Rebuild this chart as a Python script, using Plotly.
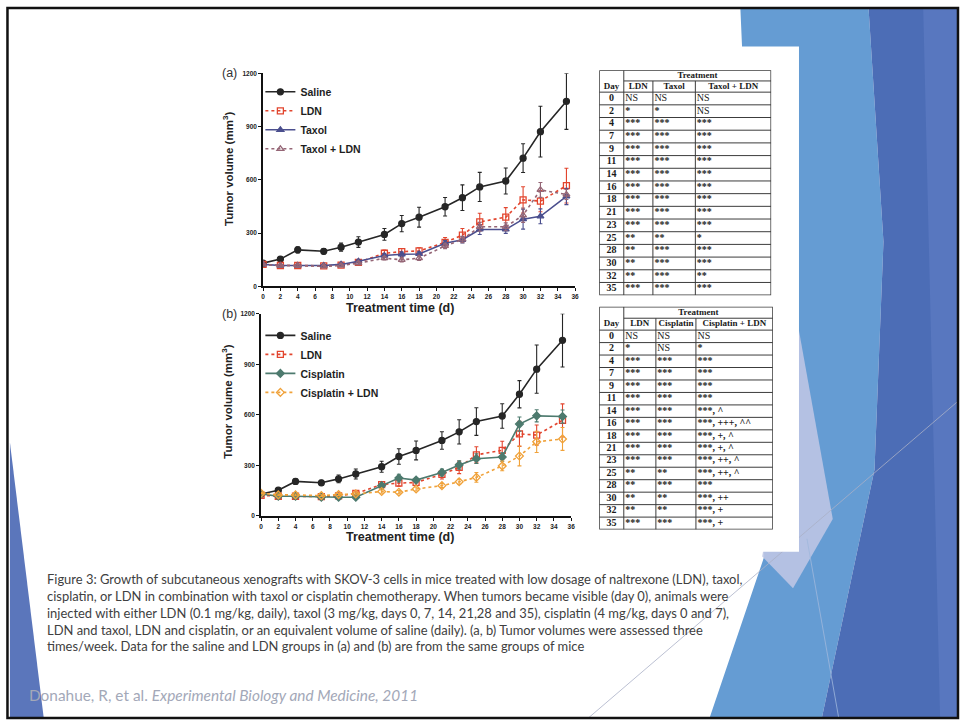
import plotly.graph_objects as go

W, H = 960, 723


def px(x):
    return x / W


def py(y):
    return 1 - y / H


# ---------------- data ----------------
days = [0, 2, 4, 7, 9, 11, 14, 16, 18, 21, 23, 25, 28, 30, 32, 35]

saline = [130, 153, 205, 197, 220, 249, 292, 353, 389, 448, 499, 560, 593, 722, 871, 1042]
saline_err = [6, 13, 17, 15, 23, 30, 33, 46, 56, 52, 72, 82, 73, 81, 143, 158]

ldn = [123, 117, 117, 115, 119, 134, 186, 195, 199, 247, 288, 363, 389, 487, 480, 567]
ldn_err = [5, 5, 6, 6, 8, 10, 18, 18, 18, 28, 37, 48, 54, 74, 60, 98]

taxol = [123, 117, 117, 117, 123, 141, 173, 180, 182, 242, 262, 320, 320, 378, 394, 506]
taxol_err = [5, 5, 5, 5, 6, 8, 10, 12, 12, 15, 18, 28, 22, 56, 42, 46]

taxol_ldn = [123, 117, 117, 112, 117, 130, 158, 149, 158, 227, 264, 335, 335, 400, 543, 517]
taxol_ldn_err = [5, 5, 5, 5, 6, 8, 10, 12, 12, 15, 18, 25, 22, 40, 42, 28]

cisplatin = [131, 117, 117, 111, 111, 111, 180, 225, 213, 258, 303, 340, 350, 545, 594, 590]
cisplatin_err = [5, 5, 5, 5, 6, 6, 12, 23, 15, 20, 25, 29, 25, 42, 36, 39]

cis_ldn = [135, 125, 125, 121, 127, 131, 145, 141, 160, 180, 203, 229, 297, 356, 440, 457]
cis_ldn_err = [5, 5, 5, 5, 6, 6, 10, 10, 12, 12, 15, 29, 29, 59, 63, 68]

x_ticks = list(range(0, 37, 2))
y_ticks = [0, 300, 600, 900, 1200]

# significance tables
table_a_header = ["Day", "LDN", "Taxol", "Taxol + LDN"]
table_a_ldn = ["NS", "*", "***", "***", "***", "***", "***", "***", "***", "***", "***", "**", "**", "**", "**", "***"]
table_a_taxol = ["NS", "*", "***", "***", "***", "***", "***", "***", "***", "***", "***", "**", "***", "***", "***", "***"]
table_a_combo = ["NS", "NS", "***", "***", "***", "***", "***", "***", "***", "***", "***", "*", "***", "***", "**", "***"]

table_b_header = ["Day", "LDN", "Cisplatin", "Cisplatin + LDN"]
table_b_ldn = ["NS", "*", "***", "***", "***", "***", "***", "***", "***", "***", "***", "**", "**", "**", "**", "***"]
table_b_cis = ["NS", "NS", "***", "***", "***", "***", "***", "***", "***", "***", "***", "**", "***", "**", "**", "***"]
table_b_combo = ["NS", "*", "***", "***", "***", "***", "***, ^", "***, +++, ^^", "***, +, ^", "***, +, ^",
                 "***, ++, ^", "***, ++, ^", "***", "***, ++", "***, +", "***, +"]

caption = ("Figure 3: Growth of subcutaneous xenografts with SKOV-3 cells in mice treated with low dosage of naltrexone (LDN), taxol,<br>"
           "cisplatin, or LDN in combination with taxol or cisplatin chemotherapy. When tumors became visible (day 0), animals were<br>"
           "injected with either LDN (0.1 mg/kg, daily), taxol (3 mg/kg, days 0, 7, 14, 21,28 and 35), cisplatin (4 mg/kg, days 0 and 7),<br>"
           "LDN and taxol, LDN and cisplatin, or an equivalent volume of saline (daily). (a, b) Tumor volumes were assessed three<br>"
           "times/week. Data for the saline and LDN groups in (a) and (b) are from the same groups of mice")
citation = "Donahue, R, et al. <i>Experimental Biology and Medicine, 2011</i>"

# ---------------- figure ----------------
fig = go.Figure()

C_SALINE = "#262626"
C_LDN = "#e2452e"
C_TAXOL = "#4b4f8e"
C_TAXOL_LDN = "#956676"
C_CIS = "#4d7a6e"
C_CIS_LDN = "#f0a23a"


def add_series(y, err, name, color, symbol, dash, xa, ya, legend, msize=6):
    fig.add_trace(go.Scatter(
        x=days, y=y, name=name, mode="lines+markers",
        line=dict(color=color, width=1.6, dash=dash),
        marker=dict(symbol=symbol, size=msize, color=color, line=dict(color=color, width=1.3)),
        error_y=dict(type="data", array=err, color=color, thickness=1.1, width=2),
        xaxis=xa, yaxis=ya, legend=legend, hoverinfo="skip"))


# panel (a)
add_series(saline, saline_err, "Saline", C_SALINE, "circle", "solid", "x", "y", "legend")
add_series(ldn, ldn_err, "LDN", C_LDN, "square-open", "dot", "x", "y", "legend")
add_series(taxol, taxol_err, "Taxol", C_TAXOL, "triangle-up", "solid", "x", "y", "legend")
add_series(taxol_ldn, taxol_ldn_err, "Taxol + LDN", C_TAXOL_LDN, "triangle-up-open", "dot", "x", "y", "legend")

# panel (b)
add_series(saline, saline_err, "Saline", C_SALINE, "circle", "solid", "x2", "y2", "legend2")
add_series(ldn, ldn_err, "LDN", C_LDN, "square-open", "dot", "x2", "y2", "legend2")
add_series(cisplatin, cisplatin_err, "Cisplatin", C_CIS, "diamond", "solid", "x2", "y2", "legend2")
add_series(cis_ldn, cis_ldn_err, "Cisplatin + LDN", C_CIS_LDN, "diamond-open", "dot", "x2", "y2", "legend2")


# ---------------- tables ----------------
def cell_label(s):
    return f"<b>{s}</b>" if "*" in s else s


def add_table(xa, ya, header, columns, col_edges, row_edges):
    left, right = col_edges[0], col_edges[-1]
    top, bottom = row_edges[0], row_edges[-1]
    font = dict(family="Liberation Serif", size=10, color="#1a1a1a")
    head_font = dict(family="Liberation Serif", size=9, color="#1a1a1a")
    # grid lines
    gx, gy = [], []
    for r in row_edges[2:-1]:
        gx += [left, right, None]
        gy += [r, r, None]
    gx += [col_edges[1], right, None]
    gy += [row_edges[1], row_edges[1], None]
    gx += [col_edges[1], col_edges[1], None]
    gy += [top, bottom, None]
    for c in col_edges[2:-1]:
        gx += [c, c, None]
        gy += [row_edges[1], bottom, None]
    fig.add_trace(go.Scatter(x=gx, y=gy, mode="lines", line=dict(color="#3c3c3c", width=1),
                             xaxis=xa, yaxis=ya, showlegend=False, hoverinfo="skip"))
    fig.add_trace(go.Scatter(x=[left, right, right, left, left], y=[top, top, bottom, bottom, top],
                             mode="lines", line=dict(color="#3c3c3c", width=1.5),
                             xaxis=xa, yaxis=ya, showlegend=False, hoverinfo="skip"))
    # header rows
    fig.add_trace(go.Scatter(x=[(col_edges[1] + right) / 2], y=[(row_edges[0] + row_edges[1]) / 2],
                             text=["<b>Treatment</b>"], mode="text", textfont=head_font,
                             xaxis=xa, yaxis=ya, showlegend=False, hoverinfo="skip"))
    hx = [(col_edges[i] + col_edges[i + 1]) / 2 for i in range(len(header))]
    hy = [(row_edges[1] + row_edges[2]) / 2] * len(header)
    fig.add_trace(go.Scatter(x=hx, y=hy, text=[f"<b>{h}</b>" for h in header], mode="text",
                             textfont=head_font, xaxis=xa, yaxis=ya, showlegend=False, hoverinfo="skip"))
    centers = [(row_edges[i] + row_edges[i + 1]) / 2 for i in range(2, len(row_edges) - 1)]
    fig.add_trace(go.Scatter(x=[(col_edges[0] + col_edges[1]) / 2] * len(days), y=centers,
                             text=[f"<b>{d}</b>" for d in days], mode="text", textfont=font,
                             xaxis=xa, yaxis=ya, showlegend=False, hoverinfo="skip"))
    for i, col in enumerate(columns):
        fig.add_trace(go.Scatter(x=[col_edges[i + 1] + 1.5] * len(col), y=centers,
                                 text=[cell_label(s) for s in col],
                                 mode="text", textposition="middle right", textfont=font,
                                 xaxis=xa, yaxis=ya, showlegend=False, hoverinfo="skip"))


def table_rows(top, h1, h2, bottom, n):
    step = (bottom - h2) / n
    return [top, h1] + [h2 + i * step for i in range(n + 1)]


cols_a = [601, 625.7, 655, 697.7, 774]
rows_a = table_rows(67, 77.7, 89, 294, len(days))
cols_b = [601, 625.7, 658, 698.3, 775.7]
rows_b = table_rows(305.7, 317.3, 329.3, 530.7, len(days))

add_table("x3", "y3", table_a_header, [table_a_ldn, table_a_taxol, table_a_combo], cols_a, rows_a)
add_table("x4", "y4", table_b_header, [table_b_ldn, table_b_cis, table_b_combo], cols_b, rows_b)

# ---------------- axes ----------------
tickfont = dict(family="Arial", size=6.5, color="#222", weight="bold")
common_x = dict(range=[0, 36], tickvals=x_ticks, ticks="outside", ticklen=3, tickwidth=1.2,
                showline=True, linecolor="#111", linewidth=1.6, showgrid=False, zeroline=False,
                tickfont=tickfont, tickcolor="#111", fixedrange=True)
common_y = dict(range=[0, 1200], tickvals=y_ticks, ticks="outside", ticklen=3, tickwidth=1.2,
                showline=True, linecolor="#111", linewidth=1.6, showgrid=False, zeroline=False,
                tickfont=tickfont, tickcolor="#111", fixedrange=True)

fig.update_layout(
    xaxis=dict(domain=[px(262.7), px(576.7)], anchor="y", **common_x),
    yaxis=dict(domain=[py(285), py(70)], anchor="x", **common_y),
    xaxis2=dict(domain=[px(260.7), px(572.7)], anchor="y2", **common_x),
    yaxis2=dict(domain=[py(517), py(312.7)], anchor="x2", **common_y),
    xaxis3=dict(domain=[px(cols_a[0]), px(cols_a[-1])], range=[cols_a[0], cols_a[-1]], visible=False, anchor="y3"),
    yaxis3=dict(domain=[py(rows_a[-1]), py(rows_a[0])], range=[rows_a[-1], rows_a[0]], visible=False, anchor="x3"),
    xaxis4=dict(domain=[px(cols_b[0]), px(cols_b[-1])], range=[cols_b[0], cols_b[-1]], visible=False, anchor="y4"),
    yaxis4=dict(domain=[py(rows_b[-1]), py(rows_b[0])], range=[rows_b[-1], rows_b[0]], visible=False, anchor="x4"),
)

legend_style = dict(xanchor="left", yanchor="top", bgcolor="rgba(0,0,0,0)", itemwidth=30,
                    tracegroupgap=0, font=dict(family="Arial", size=10.5, color="#1e1e1e", weight="bold"))
fig.update_layout(
    legend=dict(x=px(260), y=py(74), **legend_style),
    legend2=dict(x=px(260), y=py(320), **legend_style),
)

# ---------------- slide decoration ----------------
def poly(pts, color, opacity=1.0):
    path = "M " + " L ".join(f"{px(x):.5f},{py(y):.5f}" for x, y in pts) + " Z"
    return dict(type="path", path=path, xref="paper", yref="paper", fillcolor=color,
                line=dict(width=0), opacity=opacity, layer="below")


shapes = [
    poly([(743, 4), (872, 4), (887, 240), (878, 470), (825, 721), (712, 721), (767, 558)], "#659cd3"),
    poly([(872, 4), (961, 4), (961, 721), (825, 721), (878, 470), (887, 240)], "#4c6db6"),
    poly([(927, 4), (961, 4), (961, 721), (944, 721)], "#5877bf"),
    poly([(802, 330), (836, 520), (796, 590), (765, 558)], "#bcc5e4", 0.9),
    poly([(8, 443), (8, 721), (42, 721)], "#5b76bb"),
    dict(type="line", xref="paper", yref="paper", x0=px(590), y0=py(721), x1=px(961), y1=py(402),
         line=dict(color="#a9b0c6", width=0.8), layer="below"),
    dict(type="line", xref="paper", yref="paper", x0=px(810), y0=py(540), x1=px(842), y1=py(721),
         line=dict(color="#9fb8dc", width=0.8), layer="below"),
    dict(type="rect", xref="paper", yref="paper", x0=px(150), y0=py(553), x1=px(802), y1=py(43),
         fillcolor="white", line=dict(width=0), layer="below"),
    dict(type="rect", xref="paper", yref="paper", x0=px(5.5), y0=py(721), x1=px(962), y1=py(4),
         line=dict(color="#111", width=2.5), fillcolor="rgba(0,0,0,0)", layer="above"),
]

# ---------------- text ----------------
annotations = [
    dict(text="(a)", x=px(229), y=py(70), font=dict(family="Arial", size=12.5, color="#333")),
    dict(text="(b)", x=px(229), y=py(313), font=dict(family="Arial", size=12.5, color="#333")),
    dict(text="<b>Tumor volume (mm<sup>3</sup>)</b>", x=px(228), y=py(167), textangle=-90,
         font=dict(family="Arial", size=11.5, color="#222")),
    dict(text="<b>Tumor volume (mm<sup>3</sup>)</b>", x=px(227), y=py(402), textangle=-90,
         font=dict(family="Arial", size=11.5, color="#222")),
    dict(text="<b>Treatment time (d)</b>", x=px(400), y=py(307), font=dict(family="Arial", size=12.5, color="#222")),
    dict(text="<b>Treatment time (d)</b>", x=px(400), y=py(538), font=dict(family="Arial", size=12.5, color="#222")),
]
for a in annotations:
    a.update(xanchor="center", yanchor="middle")
annotations += [
    dict(text=caption, x=px(43), y=py(571), xanchor="left", yanchor="top", align="left",
         font=dict(family="Lato", size=12.95, color="#404040")),
    dict(text=citation, x=px(25), y=py(698), xanchor="left", yanchor="middle", align="left",
         font=dict(family="Lato", size=15.4, color="#a3a8b8")),
]
for a in annotations:
    a.setdefault("xref", "paper")
    a.setdefault("yref", "paper")
    a.setdefault("showarrow", False)

fig.update_layout(
    width=W, height=H, margin=dict(l=0, r=0, t=0, b=0),
    paper_bgcolor="white", plot_bgcolor="rgba(0,0,0,0)",
    shapes=shapes, annotations=annotations, hovermode=False,
)

fig.write_html("out.html", config={"displayModeBar": False})
